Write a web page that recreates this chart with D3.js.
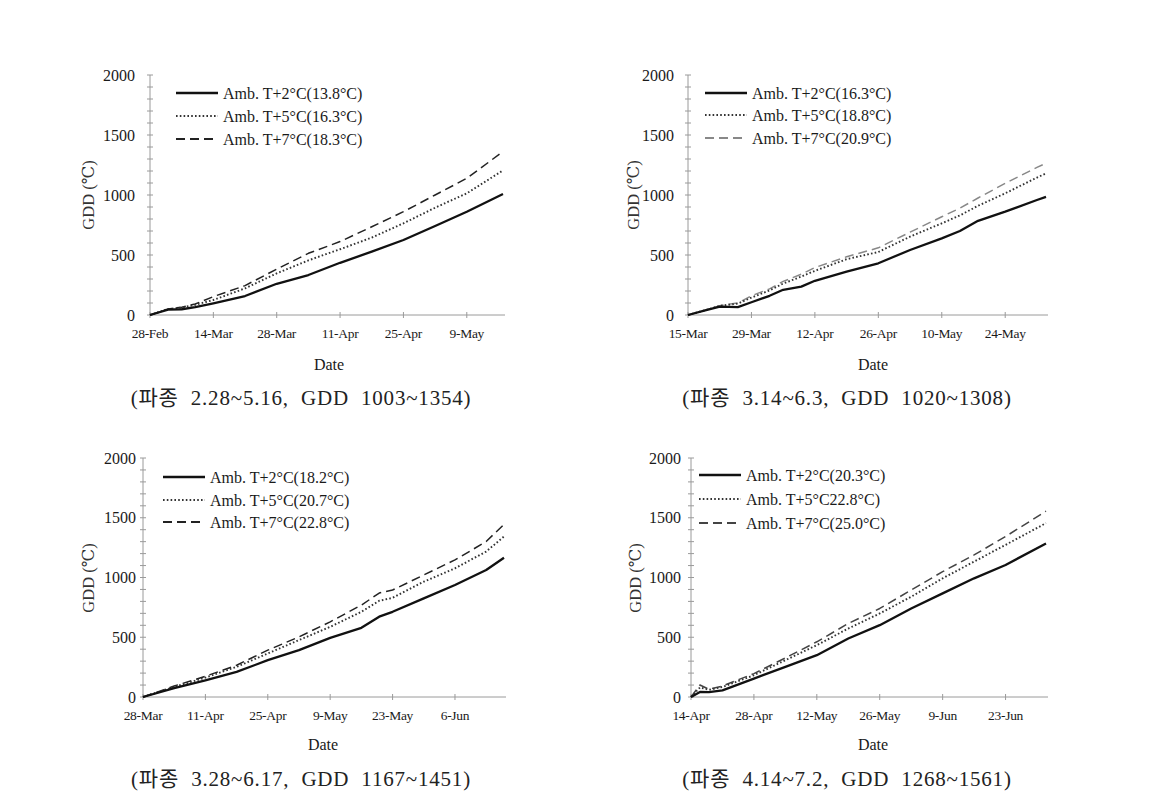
<!DOCTYPE html>
<html>
<head>
<meta charset="utf-8">
<script src="https://cdn.jsdelivr.net/npm/d3@7"></script>
<style>
html,body{margin:0;padding:0;background:#fff;}
svg text{font-family:"Liberation Serif","DejaVu Serif",serif;}
.cap{font-family:"Liberation Serif","Noto Sans CJK KR",serif;white-space:pre;}
</style>
</head>
<body>
<svg id="chart" width="1175" height="804"></svg>
<script>
// ---------- data ----------
const yTicks = [0, 500, 1000, 1500, 2000];
const seriesNames = ["T+2", "T+5", "T+7"];

// Panel 1 (sown 2.28)
const p1Start = "28-Feb";
const p1Days  = [0, 4, 7, 10, 14, 21, 28, 35, 42, 49, 56, 63, 70, 78];
const p1Amb2  = [0, 45, 48, 65, 97, 158, 260, 333, 435, 528, 625, 742, 861, 1008];
const p1Amb5  = [0, 50, 62, 85, 125, 222, 347, 455, 548, 645, 764, 894, 1014, 1205];
const p1Amb7  = [0, 50, 65, 92, 153, 245, 382, 514, 612, 735, 861, 1000, 1139, 1362];
const p1Ticks = ["28-Feb", "14-Mar", "28-Mar", "11-Apr", "25-Apr", "9-May"];
const p1Legend = ["Amb. T+2°C(13.8°C)", "Amb. T+5°C(16.3°C)", "Amb. T+7°C(18.3°C)"];
const p1Caption = "(파종  2.28~5.16,  GDD  1003~1354)";

// Panel 2 (sown 3.14)
const p2Start = "15-Mar";
const p2Days  = [0, 4, 7, 11, 14, 18, 21, 25, 28, 35, 42, 49, 56, 60, 64, 70, 77, 79];
const p2Amb2  = [0, 40, 70, 66, 106, 160, 210, 236, 285, 361, 431, 542, 639, 700, 785, 861, 958, 985];
const p2Amb5  = [0, 42, 76, 95, 145, 205, 262, 320, 368, 465, 525, 653, 764, 830, 910, 1014, 1145, 1180];
const p2Amb7  = [0, 42, 78, 100, 160, 218, 280, 340, 395, 485, 560, 690, 819, 890, 975, 1097, 1230, 1264];
const p2Ticks = ["15-Mar", "29-Mar", "12-Apr", "26-Apr", "10-May", "24-May"];
const p2Legend = ["Amb. T+2°C(16.3°C)", "Amb. T+5°C(18.8°C)", "Amb. T+7°C(20.9°C)"];
const p2Caption = "(파종  3.14~6.3,  GDD  1020~1308)";

// Panel 3 (sown 3.28)
const p3Start = "28-Mar";
const p3Days  = [0, 7, 14, 21, 28, 35, 42, 49, 53, 56, 63, 70, 77, 81];
const p3Amb2  = [0, 75, 140, 210, 308, 392, 495, 579, 672, 713, 825, 937, 1063, 1165];
const p3Amb5  = [0, 84, 162, 252, 364, 476, 587, 713, 805, 830, 965, 1077, 1217, 1343];
const p3Amb7  = [0, 92, 173, 266, 392, 503, 629, 769, 870, 895, 1021, 1147, 1301, 1445];
const p3Ticks = ["28-Mar", "11-Apr", "25-Apr", "9-May", "23-May", "6-Jun"];
const p3Legend = ["Amb. T+2°C(18.2°C)", "Amb. T+5°C(20.7°C)", "Amb. T+7°C(22.8°C)"];
const p3Caption = "(파종  3.28~6.17,  GDD  1167~1451)";

// Panel 4 (sown 4.14)
const p4Start = "14-Apr";
const p4Days  = [0, 2, 4, 7, 14, 21, 28, 35, 42, 49, 56, 63, 70, 79];
const p4Amb2  = [0, 42, 40, 56, 154, 252, 350, 490, 601, 741, 867, 993, 1105, 1285];
const p4Amb5  = [0, 80, 60, 84, 182, 308, 434, 573, 699, 839, 993, 1133, 1273, 1455];
const p4Amb7  = [0, 100, 65, 92, 196, 327, 462, 615, 741, 895, 1049, 1189, 1343, 1555];
const p4Ticks = ["14-Apr", "28-Apr", "12-May", "26-May", "9-Jun", "23-Jun"];
const p4Legend = ["Amb. T+2°C(20.3°C)", "Amb. T+5°C22.8°C)", "Amb. T+7°C(25.0°C)"];
const p4Caption = "(파종  4.14~7.2,  GDD  1268~1561)";

// ---------- layout ----------
const panels = [
  {start:p1Start, days:p1Days, s:[p1Amb2,p1Amb5,p1Amb7], ticks:p1Ticks, legend:p1Legend, caption:p1Caption,
   x0:150, x1:503, y0:315, y1:75, ylabGap:15, xlabY:338, legX:176, legY:[93,116,139],
   dateX:329, dateY:370, gddX:88, gddY:195, capX:301, capY:405, dashCol:"#222"},
  {start:p2Start, days:p2Days, s:[p2Amb2,p2Amb5,p2Amb7], ticks:p2Ticks, legend:p2Legend, caption:p2Caption,
   x0:688, x1:1046, y0:315, y1:75, ylabGap:14, xlabY:338, legX:705, legY:[93,115,138],
   dateX:873, dateY:370, gddX:633, gddY:195, capX:847, capY:405, dashCol:"#888"},
  {start:p3Start, days:p3Days, s:[p3Amb2,p3Amb5,p3Amb7], ticks:p3Ticks, legend:p3Legend, caption:p3Caption,
   x0:143, x1:504, y0:697, y1:458, ylabGap:7, xlabY:720, legX:163, legY:[477,500,522],
   dateX:323, dateY:750, gddX:88, gddY:578, capX:301, capY:786, dashCol:"#222"},
  {start:p4Start, days:p4Days, s:[p4Amb2,p4Amb5,p4Amb7], ticks:p4Ticks, legend:p4Legend, caption:p4Caption,
   x0:691, x1:1046, y0:697, y1:458, ylabGap:10, xlabY:720, legX:699, legY:[475,499,523],
   dateX:873, dateY:750, gddX:635, gddY:578, capX:847, capY:786, dashCol:"#444"}
];

const year = 2015;
const parse = d3.timeParse("%d-%b-%Y");
const svg = d3.select("#chart");
const axisCol = "#9a9a9a";
const textCol = "#1a1a1a";

panels.forEach(p => {
  const g = svg.append("g");
  const start = parse(p.start + "-" + year);
  const lastDay = p.days[p.days.length - 1];
  const x = d3.scaleTime().domain([start, d3.timeDay.offset(start, lastDay)]).range([p.x0, p.x1]);
  const y = d3.scaleLinear().domain([0, 2000]).range([p.y0, p.y1]);

  // y axis
  g.append("line").attr("x1", p.x0).attr("x2", p.x0).attr("y1", y(0)).attr("y2", y(2000))
    .attr("stroke", axisCol).attr("stroke-width", 1);
  d3.range(0, 2001, 100).forEach(v => {
    g.append("line").attr("x1", p.x0 - 3).attr("x2", p.x0 + 3).attr("y1", y(v)).attr("y2", y(v))
      .attr("stroke", axisCol).attr("stroke-width", 1);
  });
  yTicks.forEach(v => {
    g.append("text").attr("x", p.x0 - p.ylabGap).attr("y", y(v)).attr("dy", "0.35em")
      .attr("text-anchor", "end").attr("font-size", 16).attr("fill", textCol).text(v);
  });

  // x axis
  g.append("line").attr("x1", p.x0).attr("x2", p.x1 + 2).attr("y1", p.y0).attr("y2", p.y0)
    .attr("stroke", axisCol).attr("stroke-width", 1);
  p.ticks.forEach(lbl => {
    const d = parse(lbl + "-" + year);
    const xx = x(d);
    g.append("line").attr("x1", xx).attr("x2", xx).attr("y1", p.y0 - 3).attr("y2", p.y0 + 3)
      .attr("stroke", axisCol).attr("stroke-width", 1);
    g.append("text").attr("x", xx).attr("y", p.xlabY).attr("text-anchor", "middle")
      .attr("font-size", 13.5).attr("fill", textCol).attr("letter-spacing", "-0.3").text(lbl);
  });

  // axis titles
  g.append("text").attr("x", p.dateX).attr("y", p.dateY).attr("text-anchor", "middle")
    .attr("font-size", 16).attr("fill", textCol).text("Date");
  g.append("text").attr("transform", `translate(${p.gddX},${p.gddY}) rotate(-90)`)
    .attr("text-anchor", "middle").attr("dy", "0.35em")
    .attr("font-size", 16.5).attr("fill", "#333").text("GDD (℃)");

  // series
  const styles = [
    {stroke:"#111", width:2.3, dash:null},
    {stroke:"#333", width:1.9, dash:"1.6,2.2"},
    {stroke:p.dashCol, width:1.5, dash:"9,5"}
  ];
  const line = d3.line().x(d => x(d[0])).y(d => y(d[1]));
  [2, 1, 0].forEach(i => {
    const pts = p.days.map((dd, k) => [d3.timeDay.offset(start, dd), p.s[i][k]]);
    g.append("path").datum(pts).attr("d", line).attr("fill", "none")
      .attr("stroke", styles[i].stroke).attr("stroke-width", styles[i].width)
      .attr("stroke-dasharray", styles[i].dash).attr("stroke-linejoin", "round");
  });

  // legend
  p.legend.forEach((t, i) => {
    const ly = p.legY[i];
    g.append("line").attr("x1", p.legX).attr("x2", p.legX + 42).attr("y1", ly).attr("y2", ly)
      .attr("stroke", styles[i].stroke).attr("stroke-width", styles[i].width + 0.3)
      .attr("stroke-dasharray", styles[i].dash);
    g.append("text").attr("x", p.legX + 47).attr("y", ly).attr("dy", "0.35em")
      .attr("font-size", 16).attr("fill", textCol).text(t);
  });

  // caption
  g.append("text").attr("class", "cap").attr("x", p.capX).attr("y", p.capY)
    .attr("text-anchor", "middle").attr("font-size", 21).attr("letter-spacing", "0.8")
    .attr("fill", "#222").text(p.caption);
});
</script>
</body>
</html>
